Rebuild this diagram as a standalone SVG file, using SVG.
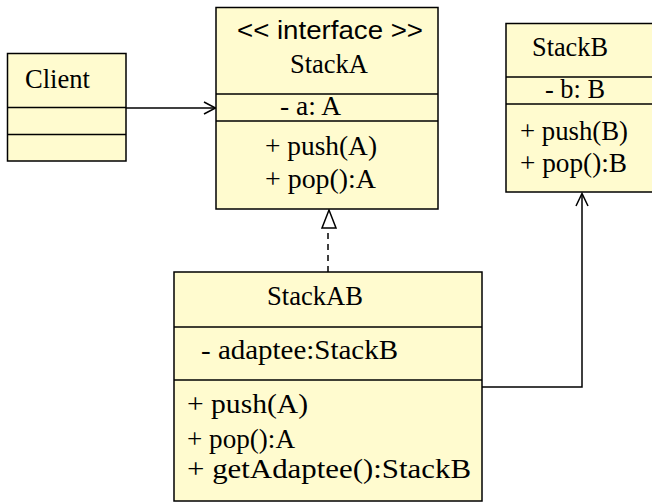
<svg xmlns="http://www.w3.org/2000/svg" width="652" height="503" viewBox="0 0 652 503">
<style>
.box{fill:#FFFBCF;stroke:#000;stroke-width:1.5}
.div{stroke:#000;stroke-width:1.5}
.t{font-family:"Liberation Serif","Times New Roman",serif;font-size:28px;fill:#000}
.s{font-family:"Liberation Sans",Arial,sans-serif;font-size:26px;fill:#000}
.ln{fill:none;stroke:#000;stroke-width:1.5}
</style>
<rect width="652" height="503" fill="#fff"/>
<g id="connectors">
<path class="ln" d="M126 108 H215"/>
<path class="ln" d="M204 102 L215.5 108 L204 114"/>
<path class="ln" d="M328 272 V228" stroke-dasharray="6 5"/>
<path d="M329 210 L322 228 H336 Z" fill="#fff" stroke="#000" stroke-width="1.5"/>
<path class="ln" d="M482 387 H582 V194"/>
<path class="ln" d="M576 206 L582 193.5 L588 206"/>
</g>
<g id="client">
<rect class="box" x="7.5" y="53.5" width="118.5" height="107.5"/>
<line class="div" x1="7.5" y1="107.5" x2="126" y2="107.5"/>
<line class="div" x1="7.5" y1="134.5" x2="126" y2="134.5"/>
<text class="t" x="25" y="88" textLength="65" lengthAdjust="spacingAndGlyphs">Client</text>
</g>
<g id="stackA">
<rect class="box" x="216" y="7.5" width="222" height="201.5"/>
<line class="div" x1="216" y1="94" x2="438" y2="94"/>
<line class="div" x1="216" y1="121" x2="438" y2="121"/>
<text class="s" x="237" y="39" textLength="186" lengthAdjust="spacingAndGlyphs">&lt;&lt; interface &gt;&gt;</text>
<text class="t" x="290" y="73" textLength="78" lengthAdjust="spacingAndGlyphs">StackA</text>
<text class="t" x="280" y="115" textLength="61" lengthAdjust="spacingAndGlyphs">- a: A</text>
<text class="t" x="265" y="155" textLength="112" lengthAdjust="spacingAndGlyphs">+ push(A)</text>
<text class="t" x="265" y="188" textLength="111" lengthAdjust="spacingAndGlyphs">+ pop():A</text>
</g>
<g id="stackB">
<rect class="box" x="506" y="23.5" width="160" height="168.5"/>
<line class="div" x1="506" y1="77" x2="652" y2="77"/>
<line class="div" x1="506" y1="104" x2="652" y2="104"/>
<text class="t" x="532" y="56" textLength="76" lengthAdjust="spacingAndGlyphs">StackB</text>
<text class="t" x="545" y="98" textLength="60" lengthAdjust="spacingAndGlyphs">- b: B</text>
<text class="t" x="520" y="140" textLength="108" lengthAdjust="spacingAndGlyphs">+ push(B)</text>
<text class="t" x="520" y="172" textLength="107" lengthAdjust="spacingAndGlyphs">+ pop():B</text>
</g>
<g id="stackAB">
<rect class="box" x="174" y="272" width="308" height="229"/>
<line class="div" x1="174" y1="327" x2="482" y2="327"/>
<line class="div" x1="174" y1="380" x2="482" y2="380"/>
<text class="t" x="267" y="305" textLength="96" lengthAdjust="spacingAndGlyphs">StackAB</text>
<text class="t" x="201" y="359" textLength="197" lengthAdjust="spacingAndGlyphs">- adaptee:StackB</text>
<text class="t" x="187" y="413" textLength="121" lengthAdjust="spacingAndGlyphs">+ push(A)</text>
<text class="t" x="187" y="448" textLength="108" lengthAdjust="spacingAndGlyphs">+ pop():A</text>
<text class="t" x="187" y="478" textLength="284" lengthAdjust="spacingAndGlyphs">+ getAdaptee():StackB</text>
</g>
</svg>
